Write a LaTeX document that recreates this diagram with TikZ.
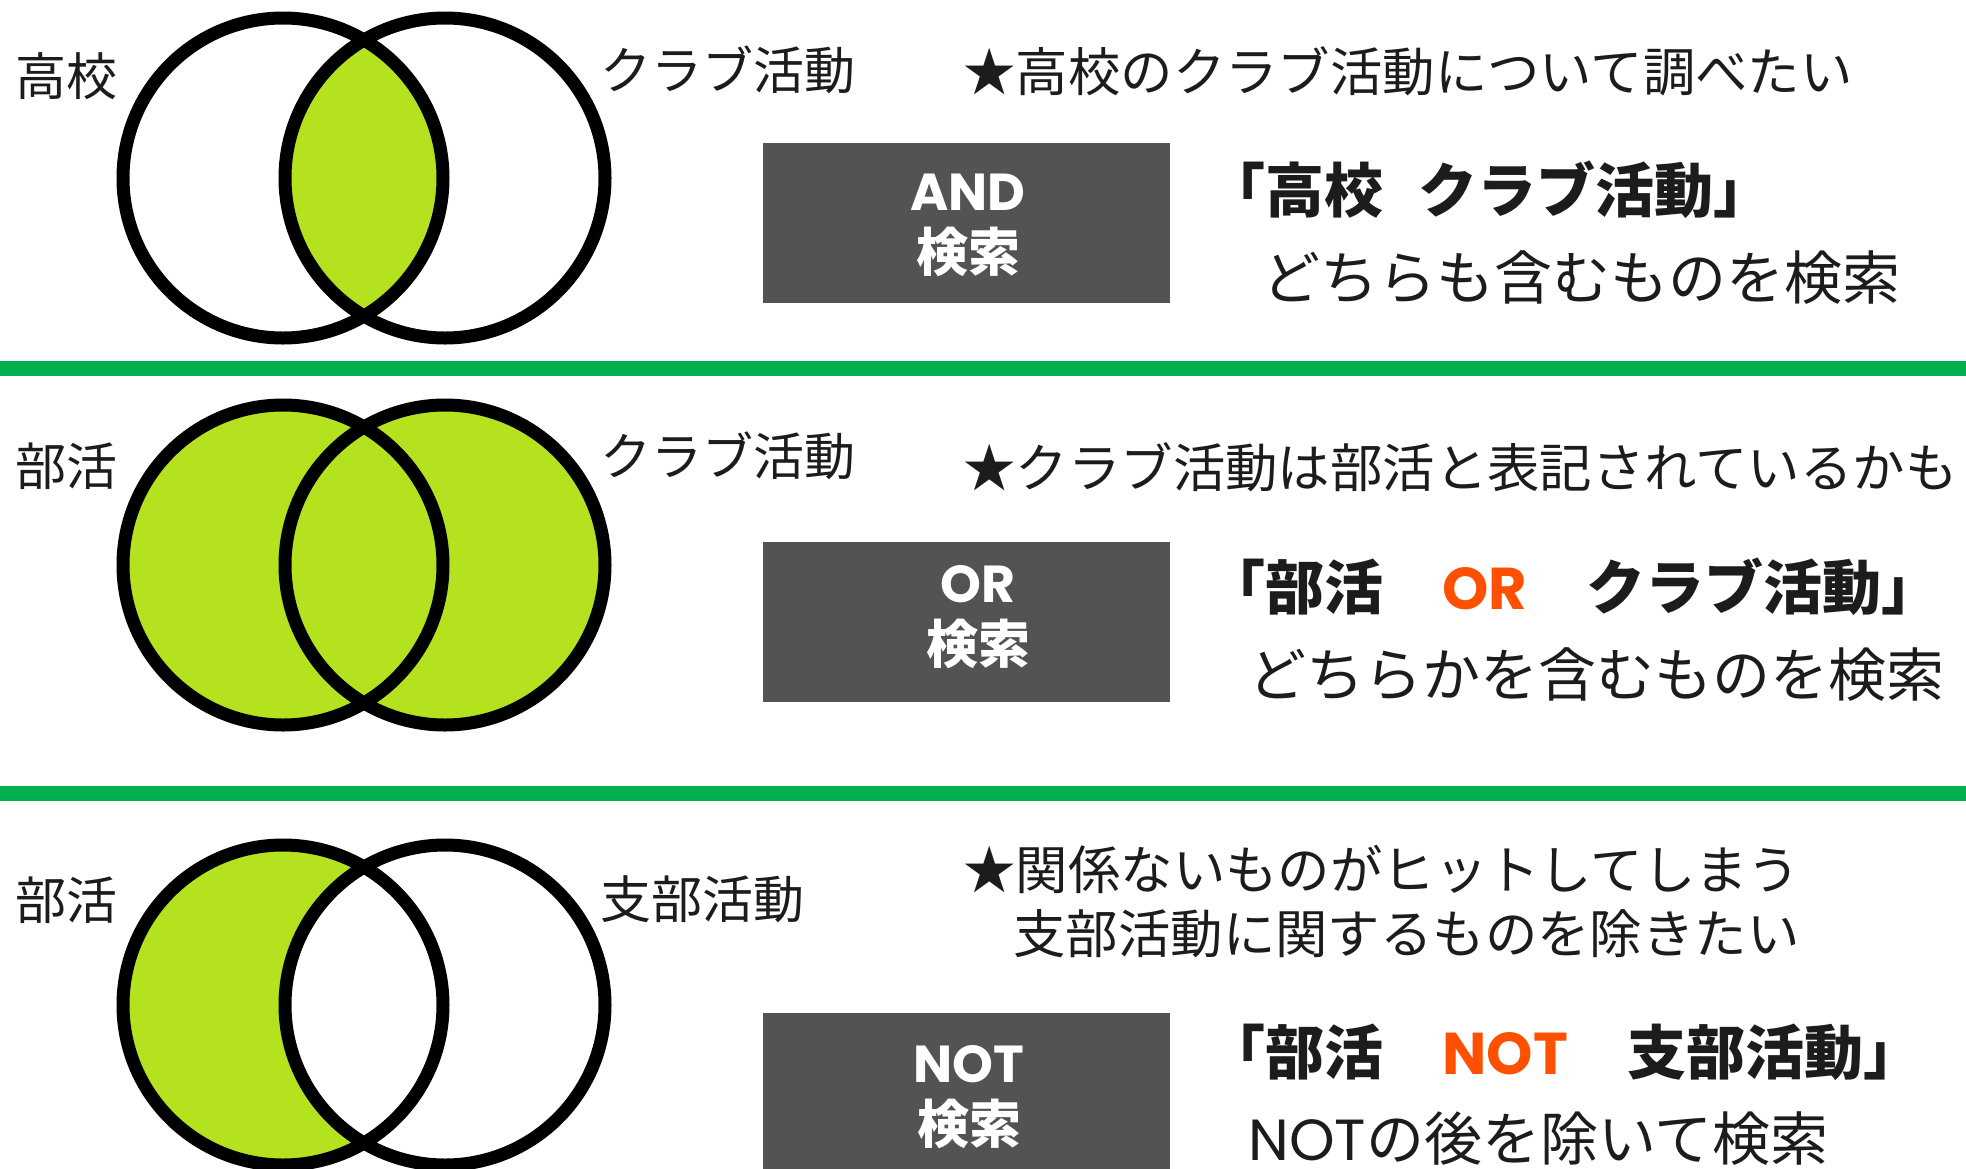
\documentclass[tikz,border=0pt]{standalone}
\usepackage{fontspec}
\setmainfont{Noto Sans CJK JP}
\newfontfamily\lat{Poppins}
\definecolor{vennlime}{HTML}{B4E21E}
\definecolor{divgreen}{HTML}{00B050}
\definecolor{boxgray}{HTML}{535353}
\definecolor{accent}{HTML}{FF5000}
\definecolor{ink}{HTML}{1C1C1C}

\begin{document}
\begin{tikzpicture}[x=0.5pt, y=-0.5pt,
  ring/.style={line width=6.5pt, draw=black},
  label/.style={anchor=west, inner sep=0pt, text=ink, font=\fontsize{25.5}{30}\selectfont},
  note/.style={anchor=west, inner sep=0pt, text=ink, font=\fontsize{26.2}{30}\selectfont},
  keyword/.style={anchor=west, inner sep=0pt, text=ink, font=\bfseries\fontsize{29.5}{32}\selectfont},
  result/.style={anchor=west, inner sep=0pt, text=ink, font=\fontsize{29}{32}\selectfont},
  opbox/.style={fill=boxgray, minimum width=203.5pt, minimum height=80pt, anchor=north west, inner sep=0pt},
  optext/.style={text=white, align=center, inner sep=0pt, font=\bfseries\fontsize{26}{30.5}\selectfont},
  divider/.style={line width=7.5pt, draw=divgreen}]

  \useasboundingbox (0,0) rectangle (1966,1168);

  % AND
  \coordinate (and1) at (283,178);
  \coordinate (and2) at (445,178);
  \begin{scope}
    \clip (and1) circle (160);
    \fill[vennlime] (and2) circle (160);
  \end{scope}
  \draw[ring] (and1) circle (160) (and2) circle (160);

  \node[label] (andleft) at (15,76) {高校};
  \node[label] (andright) at (600,70) {クラブ活動};
  \node[note] (andnote) at (963,71) {★高校のクラブ活動について調べたい};
  \node[opbox] (andbox) at (763,143) {};
  \node[optext] (andop) at (968,225) {{\lat AND}\\検索};
  \node[keyword] (andkey) at (1206,190) {「高校\hspace{0.6em}クラブ活動」};
  \node[result] (andres) at (1262,278) {どちらも含むものを検索};

  \draw[divider] (0,368) -- (1966,368);

  % OR
  \coordinate (or1) at (283,565);
  \coordinate (or2) at (445,565);
  \fill[vennlime] (or1) circle (160) (or2) circle (160);
  \draw[ring] (or1) circle (160) (or2) circle (160);

  \node[label] (orleft) at (15,466) {部活};
  \node[label] (orright) at (600,456) {クラブ活動};
  \node[note] (ornote) at (963,467) {★クラブ活動は部活と表記されているかも};
  \node[opbox] (orbox) at (763,542) {};
  \node[optext] (orop) at (978,617) {{\lat OR}\\検索};
  \node[keyword] (orkey) at (1206,587) {「部活　{\lat\color{accent}OR}　クラブ活動」};
  \node[result] (orres) at (1248,675) {どちらかを含むものを検索};

  \draw[divider] (0,793) -- (1966,793);

  % NOT
  \coordinate (not1) at (283,1005);
  \coordinate (not2) at (445,1005);
  \fill[vennlime] (not1) circle (160);
  \fill[white] (not2) circle (160);
  \draw[ring] (not1) circle (160) (not2) circle (160);

  \node[label] (notleft) at (15,900) {部活};
  \node[label] (notright) at (600,899) {支部活動};
  \node[note] (notnote) at (963,869) {★関係ないものがヒットしてしまう};
  \node[note] (notnote2) at (1013,934) {支部活動に関するものを除きたい};
  \node[opbox] (notbox) at (763,1013) {};
  \node[optext] (notop) at (969,1097) {{\lat NOT}\\検索};
  \node[keyword] (notkey) at (1206,1052) {「部活　{\lat\color{accent}NOT}　支部活動」};
  \node[result] (notres) at (1248,1139) {{\lat NOT}の後を除いて検索};
\end{tikzpicture}
\end{document}
